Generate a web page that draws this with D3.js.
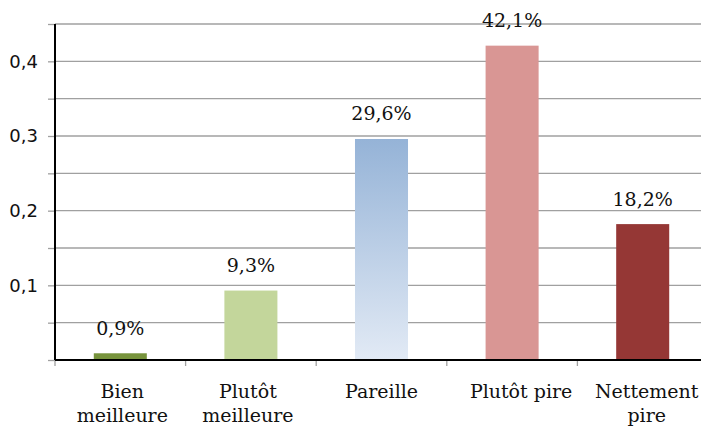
<!DOCTYPE html>
<html><head><meta charset="utf-8">
<script src="https://cdn.jsdelivr.net/npm/d3@7"></script>
<style>body{margin:0;background:#fff}svg{display:block}</style>
</head><body>
<svg id="c" width="701" height="428"></svg>
<script>
const categories = [["Bien","meilleure"],["Plutôt","meilleure"],["Pareille"],["Plutôt pire"],["Nettement","pire"]];
const values = [0.009, 0.093, 0.296, 0.421, 0.182];
const valueLabels = ["0,9%","9,3%","29,6%","42,1%","18,2%"];
const yTicks = [0.1, 0.2, 0.3, 0.4];
const gridTicks = [0.05,0.1,0.15,0.2,0.25,0.3,0.35,0.4,0.45];
const colors = ["#77933c","#c3d69b","url(#gPar)","#d99694","#953735"];
const labelShift = [2, -3, 0, 9, 4];

const svg = d3.select("#c");
const x0 = 55, x1 = 708, yB = 360, yT = 24;
const y = d3.scaleLinear().domain([0,0.45]).range([yB,yT]);
const x = d3.scaleBand().domain(d3.range(categories.length)).range([x0,x1]).paddingInner(0.594).paddingOuter(0.297);
const xc = d3.scaleBand().domain(d3.range(categories.length)).range([x0,x1]);

const defs = svg.append("defs");
const g = defs.append("linearGradient").attr("id","gPar").attr("x1",0).attr("y1",0).attr("x2",0).attr("y2",1);
g.append("stop").attr("offset","0%").attr("stop-color","#95b3d7");
g.append("stop").attr("offset","100%").attr("stop-color","#e2eaf5");

// gridlines
svg.append("g").selectAll("line").data(gridTicks).join("line")
  .attr("x1",x0).attr("x2",701).attr("y1",d=>y(d)).attr("y2",d=>y(d))
  .attr("stroke","#a0a0a0").attr("stroke-width",1.3);

// y axis
const ya = d3.axisLeft(y).tickValues([0].concat(gridTicks)).tickSize(7).tickFormat(d=> yTicks.some(t=>Math.abs(t-d)<1e-9) ? d3.format(".1f")(d).replace(".",",") : "");
const yg = svg.append("g").attr("transform",`translate(${x0},0)`).call(ya);
yg.select(".domain").remove();
yg.selectAll(".tick line").attr("stroke","#a0a0a0").attr("stroke-width",1.3);
yg.selectAll(".tick text").attr("font-family","DejaVu Sans").attr("font-size",18).attr("fill","#111").attr("x",-17);

// bars
svg.append("g").selectAll("rect").data(values).join("rect")
  .attr("x",(d,i)=>x(i)).attr("width",x.bandwidth())
  .attr("y",d=>y(d)).attr("height",d=>yB-y(d))
  .attr("fill",(d,i)=>colors[i]);

// value labels
svg.append("g").selectAll("text").data(values).join("text")
  .attr("x",(d,i)=>x(i)+x.bandwidth()/2).attr("y",d=>y(d)-18.5)
  .attr("text-anchor","middle").attr("font-family","DejaVu Serif").attr("font-size",19).attr("fill","#111")
  .text((d,i)=>valueLabels[i]);

// x axis
svg.append("g").selectAll("line").data(d3.range(categories.length)).join("line")
  .attr("x1",i=>xc(i)).attr("x2",i=>xc(i)).attr("y1",yB).attr("y2",yB+6)
  .attr("stroke","#a0a0a0").attr("stroke-width",1.3);
svg.append("line").attr("x1",x0).attr("x2",701).attr("y1",yB).attr("y2",yB).attr("stroke","#000").attr("stroke-width",2);
svg.append("line").attr("x1",x0).attr("x2",x0).attr("y1",yT).attr("y2",yB).attr("stroke","#000").attr("stroke-width",2);

// category labels
const cl = svg.append("g").selectAll("text").data(categories).join("text")
  .attr("text-anchor","middle").attr("font-family","DejaVu Serif").attr("font-size",19).attr("fill","#111");
cl.each(function(d,i){
  const t = d3.select(this);
  d.forEach((s,j)=>t.append("tspan").attr("x",xc(i)+xc.bandwidth()/2+labelShift[i]).attr("y",398+j*24).text(s));
});
</script>
</body></html>
